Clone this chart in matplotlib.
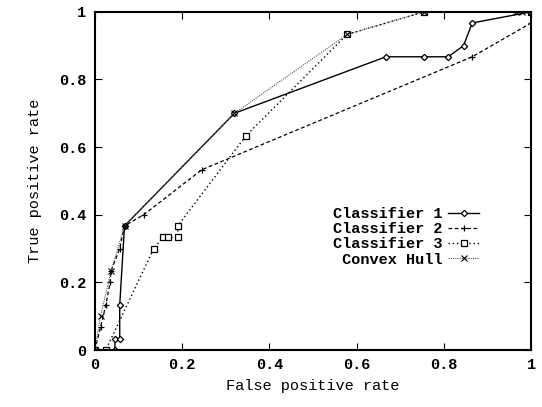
import matplotlib
matplotlib.use("Agg")
from matplotlib import pyplot as plt

# ROC points
c1_fpr = [0, 0.046, 0.046, 0.057, 0.057, 0.068, 0.32, 0.667, 0.755, 0.81, 0.845, 0.865, 1.0]
c1_tpr = [0, 0, 0.033, 0.033, 0.133, 0.367, 0.7, 0.867, 0.867, 0.867, 0.9, 0.967, 1.0]

c2_fpr = [0, 0.013, 0.025, 0.035, 0.037, 0.057, 0.068, 0.112, 0.245, 0.865, 1.0]
c2_tpr = [0, 0.067, 0.133, 0.2, 0.233, 0.3, 0.367, 0.4, 0.533, 0.867, 0.967]

c3_fpr = [0, 0.025, 0.135, 0.156, 0.167, 0.19, 0.19, 0.346, 0.578, 0.755, 1.0]
c3_tpr = [0, 0, 0.3, 0.333, 0.333, 0.333, 0.367, 0.633, 0.933, 1.0, 1.0]

hull_fpr = [0, 0.013, 0.037, 0.068, 0.32, 0.578, 0.755, 0.965, 0.98, 1.0]
hull_tpr = [0, 0.1, 0.233, 0.367, 0.7, 0.933, 1.0, 1.0, 1.0, 1.0]

ticks = [0, 0.2, 0.4, 0.6, 0.8, 1.0]
tick_labels = ["0", "0.2", "0.4", "0.6", "0.8", "1"]

plt.rcParams['font.family'] = ['Liberation Mono', 'DejaVu Sans Mono']
plt.rcParams['font.weight'] = 'bold'
plt.rcParams['font.size'] = 11

fig = plt.figure(figsize=(5.42, 4.07), dpi=100)
ax = fig.add_axes([0.175, 0.14, 0.805, 0.831])

ax.plot(c1_fpr, c1_tpr, color='black', lw=1.0, ls='-', marker='D', ms=3.2,
        mfc='white', mec='black', mew=0.9, label="Classifier 1")
ax.plot(c2_fpr, c2_tpr, color='black', lw=0.9, ls=(0, (3, 2)), marker='+', ms=5,
        mew=0.9, label="Classifier 2")
ax.plot(c3_fpr, c3_tpr, color='black', lw=1.0, ls=(0, (1, 2)), marker='s', ms=4.5,
        mfc='white', mec='black', mew=0.9, label="Classifier 3")
ax.plot(hull_fpr, hull_tpr, color='#555555', lw=0.8, ls=(0, (1, 1)), marker='x', ms=4,
        mec='black', mew=0.8, label=" Convex Hull")

ax.set_xlim(0, 1)
ax.set_ylim(0, 1)
ax.set_xticks(ticks)
ax.set_xticklabels(tick_labels)
ax.set_yticks(ticks)
ax.set_yticklabels(tick_labels)
ax.tick_params(direction='in', top=True, right=True, length=5, width=0.8, pad=6)
for s in ax.spines.values():
    s.set_linewidth(1.5)

ax.set_xlabel("False positive rate", labelpad=5)
ax.set_ylabel("True positive rate", labelpad=12)

ax.legend(loc='center right', bbox_to_anchor=(0.905, 0.335), frameon=False,
          markerfirst=False, handlelength=2.0, handletextpad=0.4,
          labelspacing=0.08, borderpad=0.2)

fig.savefig("out.png", dpi=100)
